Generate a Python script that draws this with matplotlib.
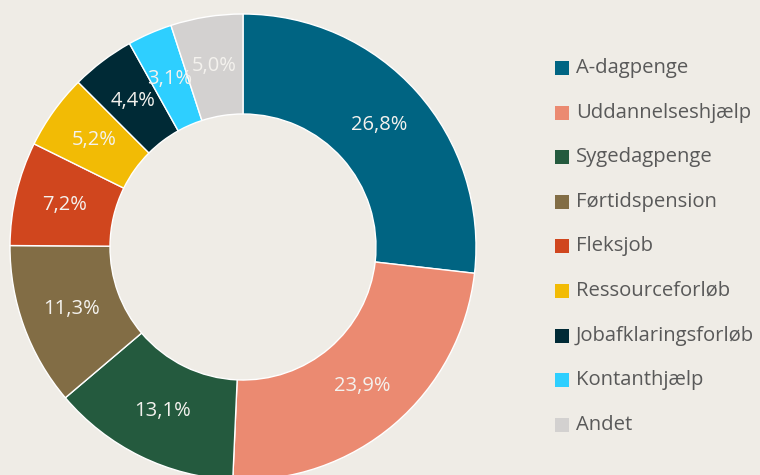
import matplotlib.pyplot as plt
from matplotlib.patches import Rectangle

labels = ["A-dagpenge", "Uddannelseshjælp", "Sygedagpenge", "Førtidspension", "Fleksjob",
          "Ressourceforløb", "Jobafklaringsforløb", "Kontanthjælp", "Andet"]
shares = [26.8, 23.9, 13.1, 11.3, 7.2, 5.2, 4.4, 3.1, 5.0]
colors = ["#006482", "#EB8A71", "#245A3E", "#826D45", "#D0461E",
          "#F2BB05", "#002A36", "#2ECFFF", "#D3D1D0"]

bg = "#EFECE6"
plt.rcParams['font.family'] = ['Open Sans', 'DejaVu Sans']

fig = plt.figure(figsize=(7.6, 4.75), dpi=100, facecolor=bg)
ax = fig.add_axes([0, 0, 1, 1])
ax.set_facecolor(bg)

R = 233
wedges, texts, autotexts = ax.pie(
    shares, colors=colors, startangle=90, counterclock=False,
    radius=R, center=(243, 228), frame=True,
    wedgeprops=dict(width=R - 133, edgecolor="white", linewidth=1),
    autopct=lambda p: f"{p:.1f}%".replace(".", ","), pctdistance=0.785,
    textprops=dict(color="#F4F2EE", fontsize=14.5))
ax.set_xlim(0, 760)
ax.set_ylim(0, 475)
ax.set_aspect("equal")
ax.axis("off")

# legend
for i, (lab, col) in enumerate(zip(labels, colors)):
    y = 475 - (68 + i * 44.6)
    ax.add_patch(Rectangle((555, y - 7), 14, 14, facecolor=col, edgecolor="none"))
    ax.text(576, y, lab, va="center", ha="left", fontsize=14.6, color="#595959")

fig.savefig("out.png", dpi=100, facecolor=bg)
